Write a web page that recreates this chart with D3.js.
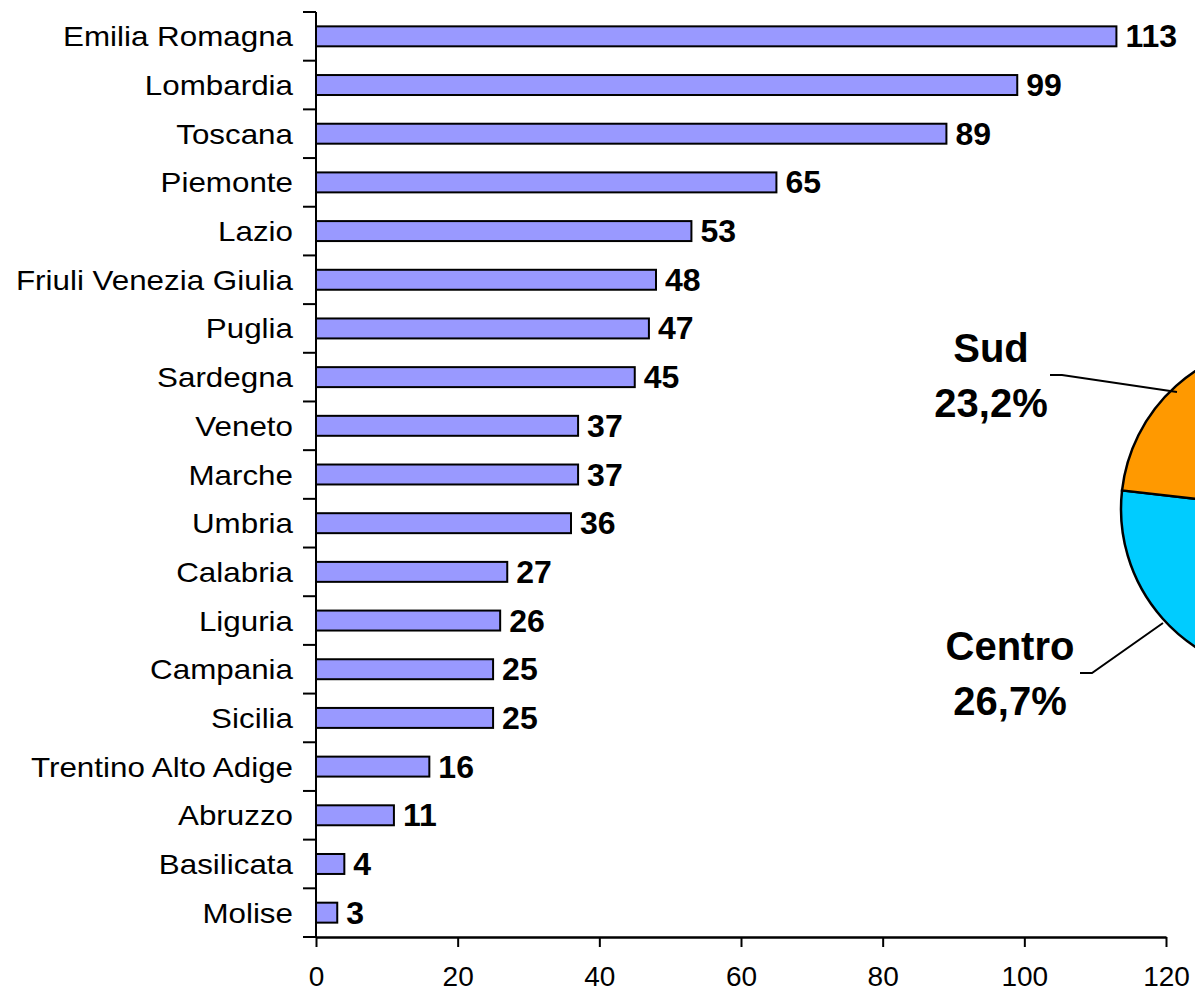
<!DOCTYPE html>
<html>
<head>
<meta charset="utf-8">
<script src="https://cdn.jsdelivr.net/npm/d3@7"></script>
<style>
  html, body { margin: 0; padding: 0; background: #fff; }
  svg { display: block; font-family: Arial, "Liberation Sans", sans-serif; }
  .cat-label { font-size: 28px; fill: #000; }
  .val-label { font-size: 32px; font-weight: bold; fill: #000; }
  .tick-label { font-size: 28px; fill: #000; }
  .pie-label { font-size: 40px; font-weight: bold; fill: #000; }
</style>
</head>
<body>
<svg id="svg" width="1195" height="996"></svg>
<script>
(function () {
  const regions = ["Emilia Romagna", "Lombardia", "Toscana", "Piemonte", "Lazio",
    "Friuli Venezia Giulia", "Puglia", "Sardegna", "Veneto", "Marche", "Umbria",
    "Calabria", "Liguria", "Campania", "Sicilia", "Trentino Alto Adige",
    "Abruzzo", "Basilicata", "Molise"];
  const values = [113, 99, 89, 65, 53, 48, 47, 45, 37, 37, 36, 27, 26, 25, 25, 16, 11, 4, 3];
  const xTicks = [0, 20, 40, 60, 80, 100, 120];

  // pie: share by area (Nord is off the right edge in the reference)
  const areas = ["Nord", "Centro", "Sud"];
  const areaShares = [50.1, 26.7, 23.2];
  const areaLabels = ["Nord\n50,1%", "Centro\n26,7%", "Sud\n23,2%"];
  const areaColors = ["#CC99FF", "#00CCFF", "#FF9900"];

  const svg = d3.select('#svg');

  const x = d3.scaleLinear().domain([0, 120]).range([316, 1166]);
  const y = d3.scaleBand().domain(regions).range([12, 937]).paddingInner(0.59).paddingOuter(0.295);
  const step = y.step();
  const top = y.range()[0];

  // bars
  svg.append('g').selectAll('rect').data(values).join('rect')
    .attr('x', x(0))
    .attr('y', (d, i) => y(regions[i]))
    .attr('width', d => x(d) - x(0))
    .attr('height', y.bandwidth())
    .attr('fill', '#9999FF')
    .attr('stroke', '#000')
    .attr('stroke-width', 2);

  // value labels
  svg.append('g').selectAll('text').data(values).join('text')
    .attr('class', 'val-label')
    .attr('x', d => x(d) + 9)
    .attr('y', (d, i) => y(regions[i]) + y.bandwidth() / 2 + 11)
    .text(d => d);

  // category labels (the original export is a little stretched sideways)
  svg.append('g').selectAll('text').data(regions).join('text')
    .attr('class', 'cat-label')
    .attr('text-anchor', 'end')
    .attr('transform', d => `translate(293,${y(d) + y.bandwidth() / 2 + 10}) scale(1.12,1)`)
    .text(d => d);

  // y axis line + ticks on category boundaries
  const yAxis = svg.append('g');
  yAxis.append('line').attr('x1', x(0)).attr('x2', x(0)).attr('y1', top).attr('y2', y.range()[1])
    .attr('stroke', '#000').attr('stroke-width', 2);
  yAxis.selectAll('line.tk').data(d3.range(regions.length + 1)).join('line')
    .attr('class', 'tk')
    .attr('x1', x(0) - 13).attr('x2', x(0))
    .attr('y1', i => top + i * step).attr('y2', i => top + i * step)
    .attr('stroke', '#000').attr('stroke-width', 2);

  // x axis
  const xAxis = svg.append('g').attr('transform', `translate(0,${y.range()[1]})`)
    .call(d3.axisBottom(x).tickValues(xTicks).tickSize(10).tickSizeOuter(0).tickPadding(19));
  xAxis.select('.domain').attr('stroke', '#000').attr('stroke-width', 2.5);
  xAxis.selectAll('.tick line').attr('stroke', '#000').attr('stroke-width', 2);
  xAxis.selectAll('.tick text').attr('class', 'tick-label').attr('font-size', null)
    .attr('font-family', null).attr('fill', '#000');

  // pie (mostly off the right edge)
  const cx = 1286, cy = 509, r = 165;
  const pie = d3.pie().sort(null).startAngle(0)(areaShares);
  const arc = d3.arc().innerRadius(0).outerRadius(r);
  const pg = svg.append('g').attr('transform', `translate(${cx},${cy})`);
  pg.selectAll('path').data(pie).join('path')
    .attr('d', arc)
    .attr('fill', (d, i) => areaColors[i])
    .attr('stroke', '#000')
    .attr('stroke-width', 2.5);

  // labels for visible slices, with leader lines
  const labelPos = {
    Sud: { x: 991, y: 362, line: [[1050, 375], [1062, 375], [1177, 392]] },
    Centro: { x: 1010, y: 660, line: [[1080, 673], [1092, 673], [1163, 623]] }
  };
  areas.forEach((a, i) => {
    const p = labelPos[a];
    if (!p) return;
    const t = svg.append('text').attr('class', 'pie-label').attr('text-anchor', 'middle');
    areaLabels[i].split('\n').forEach((s, k) => {
      t.append('tspan').attr('x', p.x).attr('y', p.y + k * 55).text(s);
    });
    svg.append('path').attr('d', d3.line()(p.line))
      .attr('fill', 'none').attr('stroke', '#000').attr('stroke-width', 2);
  });
})();
</script>
</body>
</html>
